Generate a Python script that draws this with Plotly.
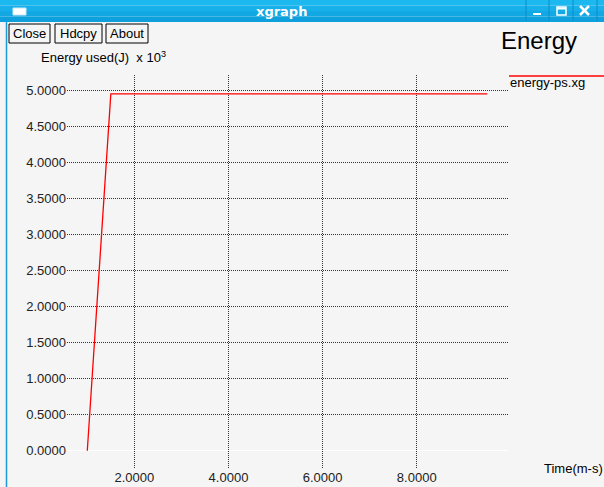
import plotly.graph_objects as go

# ---- data ----
time_ms = [1.0, 1.5, 9.5]
energy_k = [0.0, 4.945, 4.945]
series_name = "energy-ps.xg"
y_ticks = [0, 0.5, 1, 1.5, 2, 2.5, 3, 3.5, 4, 4.5, 5]
x_ticks = [2, 4, 6, 8]

W, H = 604, 487
L, R, T, B = 67, 508, 75, 468
BG = "#f5f5f5"
FONT = "Liberation Sans, Arial, sans-serif"


def px(x):
    return (x - L) / (R - L)


def py(y):
    return (B - y) / (B - T)


fig = go.Figure()
fig.add_trace(go.Scatter(x=time_ms, y=energy_k, mode="lines",
                         line=dict(color="#ff0000", width=1.3),
                         name=series_name, showlegend=False))

shapes = []
annotations = []

# title bar (gradient approximated)
bar_cols = ["#1cb8f0", "#17b0ea", "#12a8e4", "#0ea0dc"]
for i, c in enumerate(bar_cols):
    shapes.append(dict(type="rect", xref="paper", yref="paper",
                       x0=px(0), x1=px(W), y0=py(i * 5.5), y1=py((i + 1) * 5.5),
                       fillcolor=c, line=dict(width=0), layer="above"))
# left border
shapes.append(dict(type="line", xref="paper", yref="paper", x0=px(6.5), x1=px(6.5),
                   y0=py(22), y1=py(H), line=dict(color="#1a9ad6", width=1.5), layer="above"))
# window icon
shapes.append(dict(type="rect", xref="paper", yref="paper", x0=px(13), x1=px(26),
                   y0=py(8), y1=py(15), fillcolor="white", line=dict(color="#d0e8f5", width=1),
                   layer="above"))
# window button separators
for sx in [526, 549, 573, 597]:
    shapes.append(dict(type="line", xref="paper", yref="paper", x0=px(sx), x1=px(sx),
                       y0=py(0), y1=py(21), line=dict(color="#0b8cc8", width=1), layer="above"))
# minimise
shapes.append(dict(type="rect", xref="paper", yref="paper", x0=px(533), x1=px(541),
                   y0=py(13), y1=py(15), fillcolor="white", line=dict(width=0), layer="above"))
# maximise
shapes.append(dict(type="rect", xref="paper", yref="paper", x0=px(557), x1=px(566),
                   y0=py(7), y1=py(15), fillcolor="rgba(0,0,0,0)", line=dict(color="white", width=1.5),
                   layer="above"))
shapes.append(dict(type="line", xref="paper", yref="paper", x0=px(557), x1=px(566),
                   y0=py(8.5), y1=py(8.5), line=dict(color="white", width=2), layer="above"))
# close X
shapes.append(dict(type="line", xref="paper", yref="paper", x0=px(580), x1=px(589),
                   y0=py(6), y1=py(15), line=dict(color="white", width=2.5), layer="above"))
shapes.append(dict(type="line", xref="paper", yref="paper", x0=px(580), x1=px(589),
                   y0=py(15), y1=py(6), line=dict(color="white", width=2.5), layer="above"))
annotations.append(dict(x=px(281), y=py(11), xref="paper", yref="paper", text="<b>xgraph</b>",
                        showarrow=False, font=dict(family="DejaVu Sans", size=13, color="white"),
                        xanchor="center", yanchor="middle"))

# buttons
for label, x0, x1 in [("Close", 9, 50), ("Hdcpy", 55, 102), ("About", 106, 148)]:
    shapes.append(dict(type="rect", xref="paper", yref="paper", x0=px(x0), x1=px(x1),
                       y0=py(24), y1=py(43), fillcolor=BG, line=dict(color="black", width=1),
                       layer="above"))
    annotations.append(dict(x=px((x0 + x1) / 2), y=py(33.5), xref="paper", yref="paper",
                            text=label, showarrow=False,
                            font=dict(family=FONT, size=13, color="black"),
                            xanchor="center", yanchor="middle"))

# plot title
annotations.append(dict(x=px(499), y=py(40), xref="paper", yref="paper", text="Energy",
                        showarrow=False, font=dict(family=FONT, size=24, color="black"),
                        xanchor="left", yanchor="middle"))
# y axis title
annotations.append(dict(x=px(39), y=py(57), xref="paper", yref="paper",
                        text="Energy used(J)  x 10<sup>3</sup>",
                        showarrow=False, font=dict(family=FONT, size=13, color="black"),
                        xanchor="left", yanchor="middle"))
# x axis title
annotations.append(dict(x=px(542), y=py(468), xref="paper", yref="paper",
                        text="Time(m-s)",
                        showarrow=False, font=dict(family=FONT, size=13, color="black"),
                        xanchor="left", yanchor="middle"))
# legend
shapes.append(dict(type="line", xref="paper", yref="paper", x0=px(509), x1=px(W + 2),
                   y0=py(76), y1=py(76), line=dict(color="#ff0000", width=1.3), layer="above"))
annotations.append(dict(x=px(508), y=py(82), xref="paper", yref="paper",
                        text=series_name,
                        showarrow=False, font=dict(family=FONT, size=13, color="black"),
                        xanchor="left", yanchor="middle"))

fig.update_layout(
    width=W, height=H,
    margin=dict(l=L, r=W - R, t=T, b=H - B, pad=0, autoexpand=False),
    paper_bgcolor=BG, plot_bgcolor=BG,
    showlegend=False,
    shapes=shapes, annotations=annotations,
    font=dict(family=FONT, size=13, color="#222"),
)
fig.update_xaxes(range=[0.569, 9.939], tickvals=x_ticks, tickformat=".4f",
                 showgrid=True, gridcolor="#333", griddash="1px,1px", gridwidth=1,
                 zeroline=False, showline=False, ticks="",
                 fixedrange=True, automargin=False)
fig.update_yaxes(range=[-0.24, 5.208], tickvals=y_ticks, tickformat=".4f",
                 showgrid=True, gridcolor="#333", griddash="1px,1px", gridwidth=1,
                 zeroline=True, zerolinecolor="white", zerolinewidth=1,
                 showline=False, ticks="", fixedrange=True, automargin=False)

fig.write_html("out.html", config={"displayModeBar": False},
               post_script="document.body.style.margin='0';document.body.style.overflow='hidden';")
